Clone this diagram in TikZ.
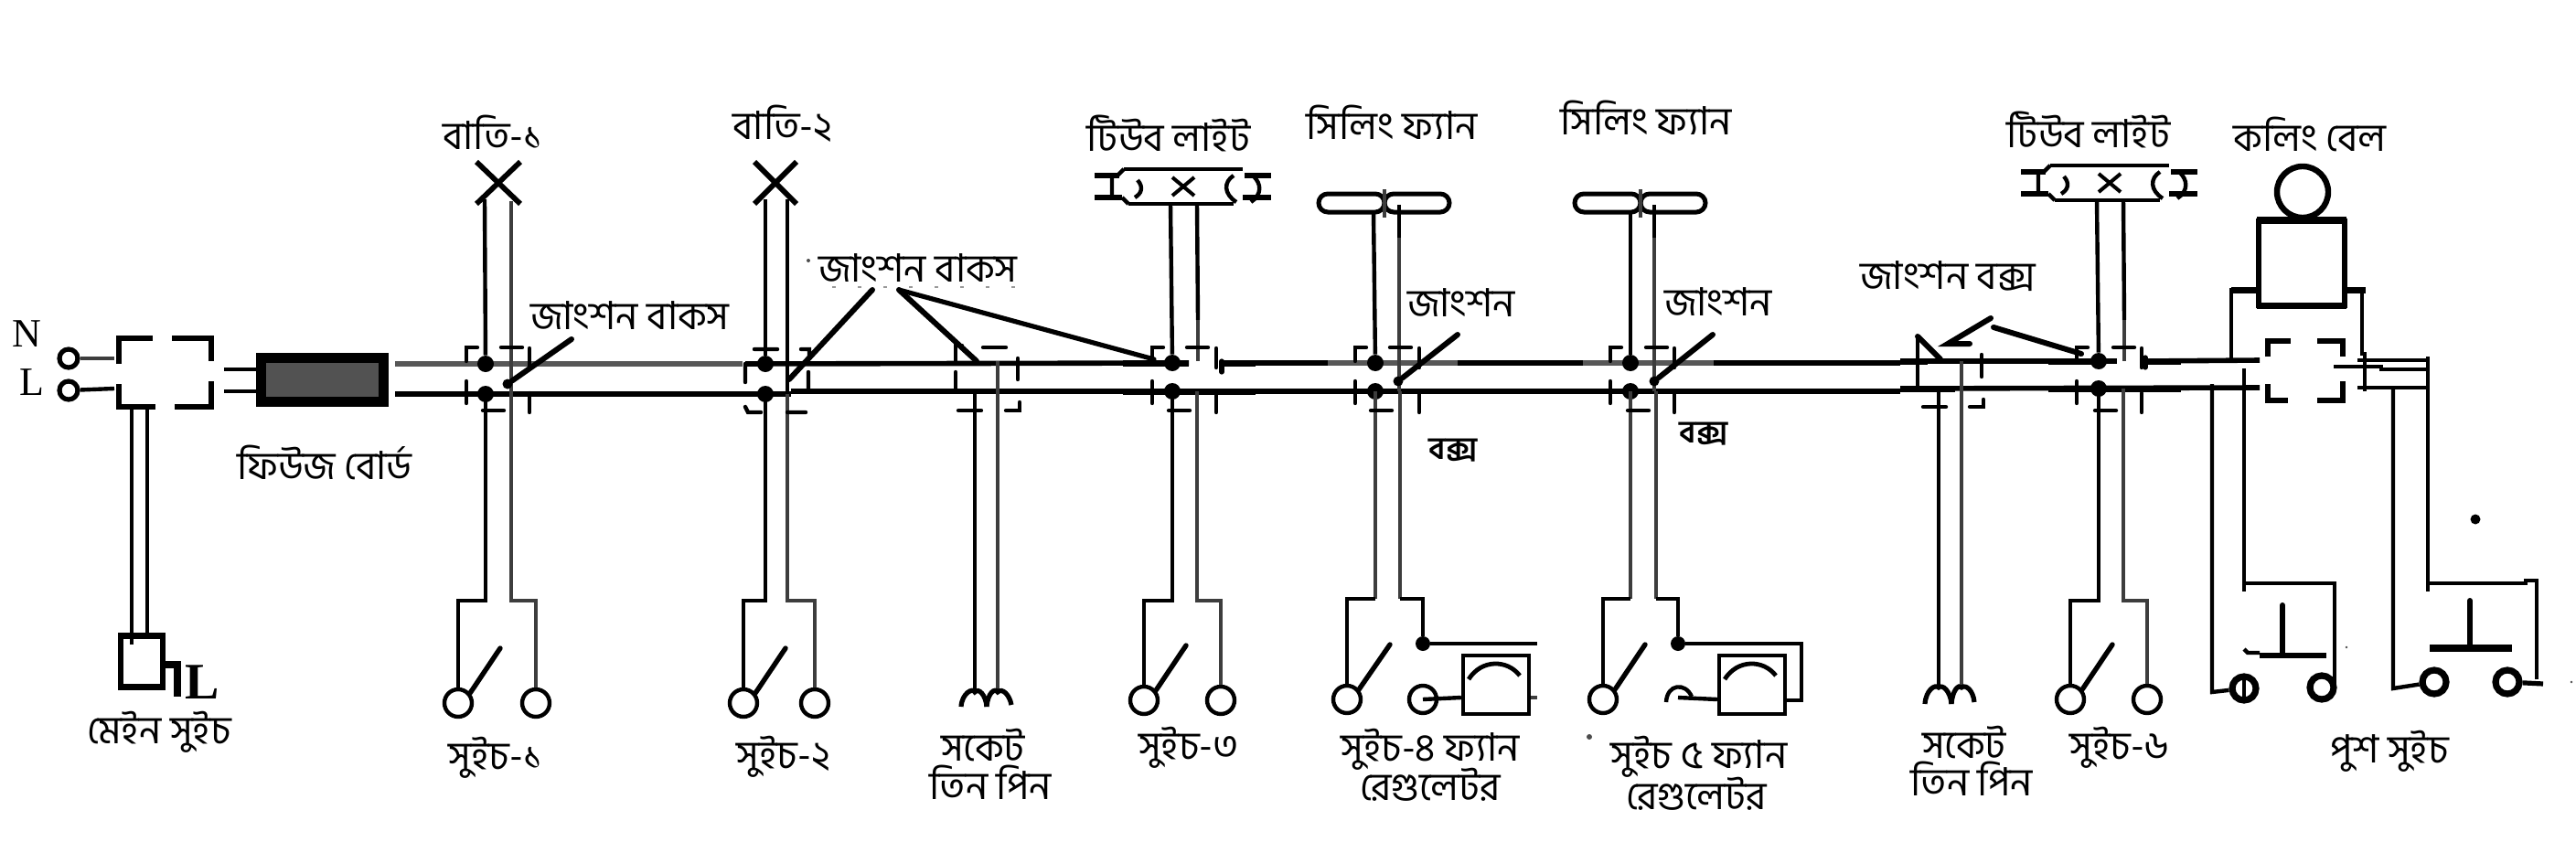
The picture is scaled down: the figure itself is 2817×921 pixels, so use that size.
\documentclass[tikz,border=0pt]{standalone}
\usepackage{fontspec}
\newfontfamily\bn[Script=Bengali]{Hind Siliguri}
\newfontfamily\lat{Liberation Serif}
\usetikzlibrary{calc}
\tikzset{
  x=0.5pt,y=-0.5pt,
  wire/.style={line width=2.2pt,black,line join=miter},
  gwire/.style={line width=2.4pt,black!76},
  mainw/.style={line width=2.8pt,black},
  gmain/.style={line width=2.9pt,black!66},
  thickw/.style={line width=3.5pt,black},
  tick/.style={line width=2.2pt,black,line cap=round},
  blade/.style={line width=2.7pt,black,line cap=round},
  ptr/.style={line width=3pt,black,line cap=round},
  term/.style={circle,draw=black,line width=2.2pt,fill=white,minimum size=15pt,inner sep=0pt},
  pterm/.style={circle,draw=black,line width=3.6pt,fill=white,minimum size=13pt,inner sep=0pt},
  stermin/.style={circle,draw=black,line width=2.6pt,fill=white,minimum size=10pt,inner sep=0pt},
  jdot/.style={circle,fill=black,draw=none,minimum size=9pt,inner sep=0pt},
  sdot/.style={circle,fill=black,draw=none,minimum size=5.5pt,inner sep=0pt},
  lab/.style={font=\bn\fontsize{21.3}{24}\selectfont,inner sep=0pt,text=black},
  boldlab/.style={font=\bn\bfseries\fontsize{17}{20}\selectfont,inner sep=0pt,text=black},
  latlab/.style={font=\lat\fontsize{22}{24}\selectfont,inner sep=0pt,text=black},
  regbox/.style={draw=black,line width=2.2pt,fill=white,minimum width=36pt,minimum height=32pt,inner sep=0pt},
  speck/.style={circle,fill=black!70,draw=none,minimum size=1.4pt,inner sep=0pt},
}
\newcommand{\jmarks}[4]{% left x, top-mid x, right x, bottom-mid x
  \draw[tick] (#1,395)--(#1,380)--++(12,0);
  \draw[tick] (#2,380)--++(23,0);
  \draw[tick] (#3,381)--(#3,402);
  \draw[tick] (#1,417)--(#1,441);
  \draw[tick] (#4,449)--++(23,0);
  \draw[tick] (#3,430)--(#3,451);
}
\newcommand{\switchunit}[6]{%
  \node[term] (#1L) at (#4,#6) {};
  \node[term] (#1R) at (#5,#6) {};
  \draw[wire] (#1a) -- (#2,657) -| (#1L);
  \draw[gwire] (#1b) -- (#3,657) -| (#1R);
  \draw[blade] (#1L.40) -- ($(#1L)+(46,-60)$);
}
\newcommand{\tubeunit}[3]{%
  \begin{scope}[shift={(#2,#3)}]
  \coordinate (#1ta) at (-14,38);
  \coordinate (#1tb) at (15,38);
  \draw[wire] (-65,0)--(65,0);
  \draw[wire] (-60,38)--(55,38);
  \draw[wire,line width=2.6pt] (-97,7)--(-70,7) (-97,31)--(-67,31) (67,7)--(96,7) (65,31)--(96,31);
  \draw[wire] (-65,0)--(-72,7) (-60,38)--(-67,31) (-78,8)--(-78,30);
  \draw[wire] (-50,12) .. controls (-43,20) and (-46,27) .. (-53,31);
  \draw[wire] (55,7) .. controls (44,14) and (44,27) .. (58,36);
  \draw[wire] (76,7) .. controls (86,16) and (86,28) .. (74,36);
  \draw[wire,line width=2pt] (-12,9)--(12,29) (-12,29)--(12,9);
  \end{scope}
}
\newcommand{\fanunit}[2]{%
  \draw[wire,line width=2.5pt,rounded corners=5pt] (#2-72,212) rectangle (#2,232);
  \draw[wire,line width=2.5pt,rounded corners=5pt] (#2,212) rectangle (#2+71,232);
  \draw[gwire] (#2,207)--(#2,238);
}
\newcommand{\regunit}[2]{%
  \node[regbox] (#1) at (#2,749) {};
  \draw[line width=2.4pt,black] ($(#1)+(-30,-6)$) .. controls ($(#1)+(-16,-28)$) and ($(#1)+(12,-28)$) .. ($(#1)+(26,-10)$);
}
\begin{document}
\begin{tikzpicture}
\useasboundingbox (0,0) rectangle (2817,921);

% --- supply and main switch
\node[latlab] (N) at (29,365) {N};
\node[latlab] (Ltxt) at (35,418) {L};
\node[stermin] (tN) at (75,392) {};
\node[stermin] (tL) at (75,427) {};
\coordinate (boxN) at (125,392);
\coordinate (boxL) at (125,425);
\draw[gwire] (tN) -- (boxN);
\draw[wire] (tL) -- (boxL);
\draw[wire,line width=2.6pt] (130,398)--(130,370)--(167,370) (188,370)--(231,370)--(231,395)
  (130,420)--(130,445)--(170,445) (191,445)--(231,445)--(231,417);
\node[draw=black,line width=5.5pt,fill=black!68,minimum width=67pt,minimum height=24pt,inner sep=0pt] (fuse) at (352.5,415) {};
\coordinate (mbA) at (245,404);
\coordinate (mbB) at (245,428);
\draw[wire] (mbA) -- (fuse.west |- mbA);
\draw[wire] (mbB) -- (fuse.west |- mbB);
\node[draw=black,line width=3.2pt,fill=white,minimum width=23pt,minimum height=28pt,inner sep=0pt] (msw) at (155,723.5) {};
\draw[wire] (144,445) -- (144,705);
\draw[wire] (161,445) -- (msw.north -| 161,445);
\draw[wire,line width=3.6pt] (msw.east |- 0,727) -- (194,727) -- (194,762);
\node[font=\lat\bfseries\fontsize{28}{30}\selectfont,inner sep=0pt] (Ltwo) at (221,746) {L};
\node[lab] (lmain) at (174,801) {মেইন সুইচ};
\node[lab] (lfuse) at (355,506) {ফিউজ বোর্ড};

% --- main lines
\draw[gmain] (432,398)--(812,398);
\draw[mainw] (815,398)--(1300,397);
\draw[mainw] (1334,397)--(1458,397);
\draw[gmain] (1452,397)--(1594,397);
\draw[mainw] (1594,397)--(1733,397);
\draw[gmain] (1731,397)--(1874,397);
\draw[mainw] (1874,397)--(2078,397);
\draw[mainw] (2078,395)--(2315,395);
\draw[mainw] (2346,395)--(2471,394);
\draw[mainw] (432,431)--(865,431);
\draw[mainw] (865,428)--(2078,428);
\draw[mainw] (2078,425)--(2471,424);
\draw[thickw] (1228,397)--(1300,397) (1228,428)--(1373,428) (1336,397)--(1373,397);
\draw[thickw] (2078,395)--(2108,395) (2078,425)--(2138,425) (2240,395)--(2300,395) (2240,425)--(2385,425) (2346,395)--(2385,395);
\draw[tick,line width=2.6pt] (1336,395)--(1336,407) (2346,391)--(2346,402);

% --- lamp 1
\node[jdot] (d1u) at (531,398) {};
\node[jdot] (d1l) at (531,431) {};
\coordinate (lamp1c) at (545,200);
\draw[line width=2.9pt] ($(lamp1c)+(-24,-23)$)--($(lamp1c)+(24,23)$) ($(lamp1c)+(24,-23)$)--($(lamp1c)+(-24,23)$);
\draw[wire] (530,218)--(d1u);
\draw[gwire] (559,220)--(559,431);
\coordinate (s1a) at (d1l);
\coordinate (s1b) at (559,431);
\switchunit{s1}{531}{559}{501}{586}{769}
\jmarks{510}{548}{579}{528}
\node[sdot] (p1) at (555,420) {};
\coordinate (p1e) at (625,371);
\draw[ptr] (p1) -- (p1e);
\node[lab] (lb1) at (539,145) {বাতি-১};
\node[lab] (ls1) at (542,829) {সুইচ-১};
\node[lab] (lj1) at (689,345) {জাংশন বাকস};

% --- lamp 2
\node[jdot] (d2u) at (837,398) {};
\node[jdot] (d2l) at (837,431) {};
\coordinate (lamp2c) at (848,200);
\draw[line width=2.9pt] ($(lamp2c)+(-23,-23)$)--($(lamp2c)+(23,23)$) ($(lamp2c)+(23,-23)$)--($(lamp2c)+(-23,23)$);
\draw[wire] (837,218)--(d2u);
\draw[wire] (861,218)--(861,431);
\coordinate (s2a) at (d2l);
\coordinate (s2b) at (861,431);
\switchunit{s2}{837}{861}{813}{891}{769}
\draw[tick] (815,398)--(815,418) (825,382)--(850,382) (876,382)--(885,382)--(885,390) (884,407)--(884,427)
  (815,445)--(818,451)--(832,451) (861,451)--(881,451);
\coordinate (j2hub) at (954,317);
\coordinate (j2hubb) at (983,317);
\coordinate (j2tip) at (863,415);
\coordinate (j3tip) at (1068,395);
\coordinate (j4tip) at (1262,393);
\draw[ptr] (j2tip) -- (j2hub);
\draw[ptr] (j2hubb) -- (j3tip);
\draw[ptr,line width=2.6pt] (j2hubb) -- (j4tip);
\draw[black!40,line width=0.8pt,dash pattern=on 2pt off 12pt] (910,314)--(1120,314);
\node[speck,minimum size=2pt] (sp1) at (884,285) {};
\node[lab] (lb2) at (856,135) {বাতি-২};
\node[lab] (ls2) at (857,828) {সুইচ-২};
\node[lab] (lj2) at (1004,293) {জাংশন বাকস};

% --- socket 1
\draw[wire] (1066,429)--(1066,757);
\draw[gwire] (1091,395)--(1091,757);
\draw[wire,line width=2.6pt] (1051,773) .. controls (1052,758) and (1064,752) .. (1066,757) .. controls (1070,752) and (1078,760) .. (1079,773);
\draw[wire,line width=2.6pt] (1079,773) .. controls (1080,758) and (1088,752) .. (1091,757) .. controls (1096,752) and (1104,760) .. (1106,771);
\draw[tick] (1045,395)--(1045,378)--(1052,378) (1075,380)--(1100,380) (1113,392)--(1113,415)
  (1045,407)--(1045,427) (1048,449)--(1073,449) (1100,449)--(1115,449)--(1115,440);
\node[lab] (lsk1) at (1075,815) {সকেট};
\node[lab] (lsk1b) at (1083,856) {তিন পিন};

% --- tube 1
\tubeunit{t1}{1294}{185}
\node[jdot] (d3u) at (1282,397) {};
\node[jdot] (d3l) at (1282,428) {};
\draw[wire] (t1ta) -- (d3u);
\draw[wire] (t1tb) -- (1310,350);
\draw[gwire] (1310,350)--(1310,395);
\coordinate (s3a) at (d3l);
\coordinate (s3b) at (1309,428);
\switchunit{s3}{1282}{1309}{1251}{1335}{766}
\jmarks{1260}{1298}{1330}{1278}
\node[lab] (ltl1) at (1278,146) {টিউব লাইট};
\node[lab] (ls3) at (1300,818) {সুইচ-৩};

% --- fan 1
\fanunit{f1}{1514}
\node[jdot] (d4u) at (1504,397) {};
\node[jdot] (d4l) at (1504,428) {};
\draw[wire] (1502,232)--(d4u);
\draw[gwire] (1530,232)--(1530,428);
\draw[wire] (1530,224)--(1530,260);
\coordinate (s4a) at (d4l);
\coordinate (s4b) at (1531,428);
\node[term] (s4L) at (1473,765) {};
\node[term] (s4R) at (1556,765) {};
\node[sdot,minimum size=8pt] (s4d) at (1556,704) {};
\draw[gwire] (s4a)--(1504,655);
\draw[wire] (1504,655)-|(s4L);
\draw[gwire] (s4b)--(1531,655);
\draw[wire] (1531,655)-|(s4d);
\draw[blade] (s4L.40) -- ($(s4L)+(47,-60)$);
\draw[wire] (s4d) -- (1681,704);
\regunit{r4}{1636}
\draw[wire] (s4R.center) -- (r4.west |- 0,763);
\draw[gwire] (r4.east |- 0,763) -- (1681,763);
\jmarks{1482}{1520}{1552}{1499}
\node[sdot] (p4) at (1529,417) {};
\coordinate (p4e) at (1594,366);
\draw[ptr] (p4) -- (p4e);
\node[lab] (lf1) at (1522,134) {সিলিং ফ্যান};
\node[lab] (lj4) at (1598,331) {জাংশন};
\node[boldlab] (lbx1) at (1589,493) {বক্স};
\node[lab] (ls4) at (1564,820) {সুইচ-৪ ফ্যান};
\node[lab] (lr4) at (1564,858) {রেগুলেটর};

% --- fan 2
\fanunit{f2}{1794}
\node[jdot] (d5u) at (1783,397) {};
\node[jdot] (d5l) at (1783,428) {};
\draw[wire] (1783,232)--(d5u);
\draw[gwire] (1809,232)--(1809,428);
\draw[wire] (1809,224)--(1809,260);
\coordinate (s5a) at (d5l);
\coordinate (s5b) at (1811,428);
\node[term] (s5L) at (1753,765) {};
\node[sdot,minimum size=8pt] (s5d) at (1835,704) {};
\draw[gwire] (s5a)--(1783,655);
\draw[wire] (1783,655)-|(s5L);
\draw[gwire] (s5b)--(1811,655);
\draw[wire] (1811,655)-|(s5d);
\draw[blade] (s5L.40) -- ($(s5L)+(46,-60)$);
\regunit{r5}{1916}
\draw[wire] (s5d) -| (1970,766) -- (r5.east |- 0,766);
\coordinate (s5rt) at (1835,763);
\draw[wire] (1822,768) .. controls (1823,748) and (1843,746) .. (1850,762);
\draw[wire] (s5rt) -- (r5.west |- 0,765);
\jmarks{1761}{1800}{1831}{1780}
\node[sdot] (p5) at (1809,417) {};
\coordinate (p5e) at (1873,366);
\draw[ptr] (p5) -- (p5e);
\node[lab] (lf2) at (1800,129) {সিলিং ফ্যান};
\node[lab] (lj5) at (1879,330) {জাংশন};
\node[boldlab] (lbx2) at (1863,475) {বক্স};
\node[lab] (ls5) at (1858,828) {সুইচ ৫ ফ্যান};
\node[lab] (lr5) at (1855,868) {রেগুলেটর};
\node[speck,minimum size=3pt] (sp5) at (1738,806) {};

% --- socket 2
\draw[wire] (2120,428)--(2120,752);
\draw[gwire] (2145,395)--(2145,752);
\draw[wire,line width=2.6pt] (2105,770) .. controls (2106,755) and (2116,748) .. (2120,752) .. controls (2124,748) and (2133,756) .. (2134,770);
\draw[wire,line width=2.6pt] (2134,770) .. controls (2135,755) and (2142,748) .. (2145,752) .. controls (2150,748) and (2158,756) .. (2159,768);
\draw[tick] (2097,370)--(2097,395) (2097,397)--(2097,423) (2167,388)--(2167,412)
  (2103,445)--(2128,445) (2154,445)--(2169,445)--(2169,437);
\draw[ptr] (2097,368)--(2122,393);
\coordinate (j6hub) at (2177,348);
\coordinate (j6hubb) at (2180,358);
\coordinate (j6tip) at (2276,387);
\draw[ptr] (2154,376)--(2130,376)--(j6hub);
\draw[ptr] (j6hubb)--(j6tip);
\node[lab] (lj6) at (2130,302) {জাংশন বক্স};
\node[lab] (lsk2) at (2148,812) {সকেট};
\node[lab] (lsk2b) at (2156,852) {তিন পিন};

% --- tube 2
\tubeunit{t2}{2307}{181}
\node[jdot] (d6u) at (2295,395) {};
\node[jdot] (d6l) at (2295,425) {};
\draw[wire] (t2ta) -- (d6u);
\draw[wire] (t2tb) -- (2323,350);
\draw[gwire] (2323,350)--(2323,395);
\coordinate (s6a) at (d6l);
\coordinate (s6b) at (2322,425);
\switchunit{s6}{2295}{2322}{2264}{2348}{765}
\jmarks{2271}{2311}{2342}{2291}
\node[lab] (ltl2) at (2284,142) {টিউব লাইট};
\node[lab] (ls6) at (2318,818) {সুইচ-৬};

% --- bell
\node[circle,draw=black,line width=3.2pt,minimum size=28pt,inner sep=0pt] (bellc) at (2518,210) {};
\node[draw=black,line width=3pt,fill=white,minimum width=47pt,minimum height=46pt,inner sep=0pt] (bell) at (2517,288) {};
\draw[line width=3.4pt] (2468,240)--(2566,240) (2468,335)--(2566,335);
\draw[wire] (2440,393) -- (2440,317) -- (bell.west |- 0,317);
\draw[wire,line width=3.5pt] (2440,317) -- (2468,317) (2566,317) -- (2587,317);
\draw[wire] (2583,317) -- (2583,387) -- (2586,387) -- (2586,428);
\draw[wire,line width=2.6pt] (2480,390)--(2480,373)--(2505,373) (2534,373)--(2562,373)--(2562,390)
  (2480,420)--(2480,438)--(2502,438) (2534,438)--(2562,438)--(2562,417);
\draw[wire] (2552,401)--(2604,401)--(2604,404)--(2656,404);
\draw[wire] (2578,394)--(2656,394);
\draw[wire] (2578,424)--(2656,424);
\node[lab] (lbell) at (2526,147) {কলিং বেল};

% --- push switches
\node[pterm] (pA) at (2454,753) {};
\node[pterm] (pB) at (2539,752) {};
\node[pterm] (pC) at (2662,746) {};
\node[pterm] (pD) at (2742,746) {};
\draw[wire] (2419,420)--(2419,757)--(pA);
\draw[wire] (2454,403)--(2454,647);
\draw[wire] (2454,638)--(2553,638)--(2553,750);
\draw[wire] (2454,743)--(2454,765);
\draw[wire,line width=3.2pt] (2471,717)--(2544,717);
\draw[wire] (2454,710)--(2458,714)--(2471,714);
\draw[wire,line width=3pt,line cap=round] (2496,662)--(2496,715);
\draw[wire] (2617,424)--(2617,753)--(pC);
\draw[wire] (2655,390)--(2655,647);
\draw[wire] (2655,638)--(2762,638)--(2762,635)--(2774,635)--(2774,743);
\draw[wire,line width=2.6pt] (pD)--(2781,748);
\draw[wire,line width=4pt] (2657,709)--(2747,709);
\draw[wire,line width=3pt,line cap=round] (2701,657)--(2701,707);
\node[lab] (lpush) at (2613,822) {পুশ সুইচ};
\node[sdot] (spa) at (2707,568) {};
\node[speck] (spb) at (2566,708) {};
\node[speck] (spc) at (2812,746) {};
\end{tikzpicture}
\end{document}
